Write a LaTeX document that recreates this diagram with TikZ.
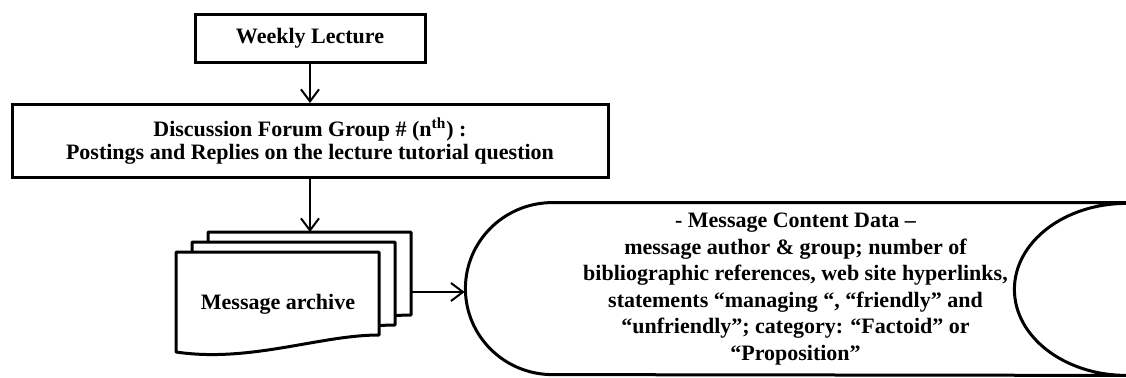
\documentclass[tikz,border=0pt]{standalone}
\usepackage{fontspec}
\setmainfont{Liberation Serif}
\usetikzlibrary{arrows.meta,calc,positioning}

\begin{document}
\begin{tikzpicture}[x=0.5pt,y=0.5pt,
	box/.style={draw,line width=1.5pt,align=center,font=\fontsize{11}{11.5}\selectfont\bfseries},
	arr/.style={-{Straight Barb[length=6pt,width=9pt]},line width=1pt},
	sheetline/.style={line width=1.5pt,fill=white,line join=round}]
	\def\dx{16} % shift of the stacked sheets
	\def\dy{10}
	\useasboundingbox (0,0) rectangle (1126,377);
	
	\node[box,minimum width=115pt,minimum height=24pt] (lecture) at (310,339) {Weekly Lecture};
	\node[box,minimum width=298pt,minimum height=36.5pt] (forum) at (310,236)
		{Discussion Forum Group \# (n\textsuperscript{th}) :\\Postings and Replies on the lecture tutorial question};
	
	% stack of message sheets
	\coordinate (sheet) at (176,125); % top left corner of the front sheet
	\foreach \i in {2,1,0} {
		\coordinate (tl) at ($(sheet)+(\i*\dx,\i*\dy)$);
		\draw[sheetline] (tl) -- ++(203,0) -- ++(0,-83)
			.. controls ($(tl)+(144,-83)$) and ($(tl)+(74,-111)$) .. ($(tl)+(0,-100)$) -- cycle;
	}
	\coordinate (backtop) at ($(sheet)+(2*\dx+101.5,2*\dy)$); % top of the back sheet
	\coordinate (backright) at ($(sheet)+(2*\dx+203,2*\dy-60)$); % right side of the back sheet
	\node[font=\fontsize{11}{13}\selectfont\bfseries] (archive) at (278,73) {Message archive};
	
	% stored data
	\node[align=center,minimum width=330.5pt,minimum height=86pt,
		font=\fontsize{11}{13.25}\selectfont\bfseries] (store) at (795.5,88)
		{- Message Content Data –\\
		message author \& group; number of\\
		bibliographic references, web site hyperlinks,\\
		statements “managing “, “friendly” and\\
		“unfriendly”; category: “Factoid” or\\
		“Proposition”};
	\draw[line width=1.5pt] (store.north east) -- ++(-574,0)
		arc[start angle=90,end angle=270,x radius=43.5pt,y radius=43pt] -- (store.south east)
		arc[start angle=-90,end angle=-270,x radius=56pt,y radius=43pt];
	
	\draw[arr] (lecture) -- (forum);
	\draw[arr] (forum.south) -- (forum.south |- backtop);
	\draw[arr] (backright) -- (backright -| store.west);
\end{tikzpicture}
\end{document}
